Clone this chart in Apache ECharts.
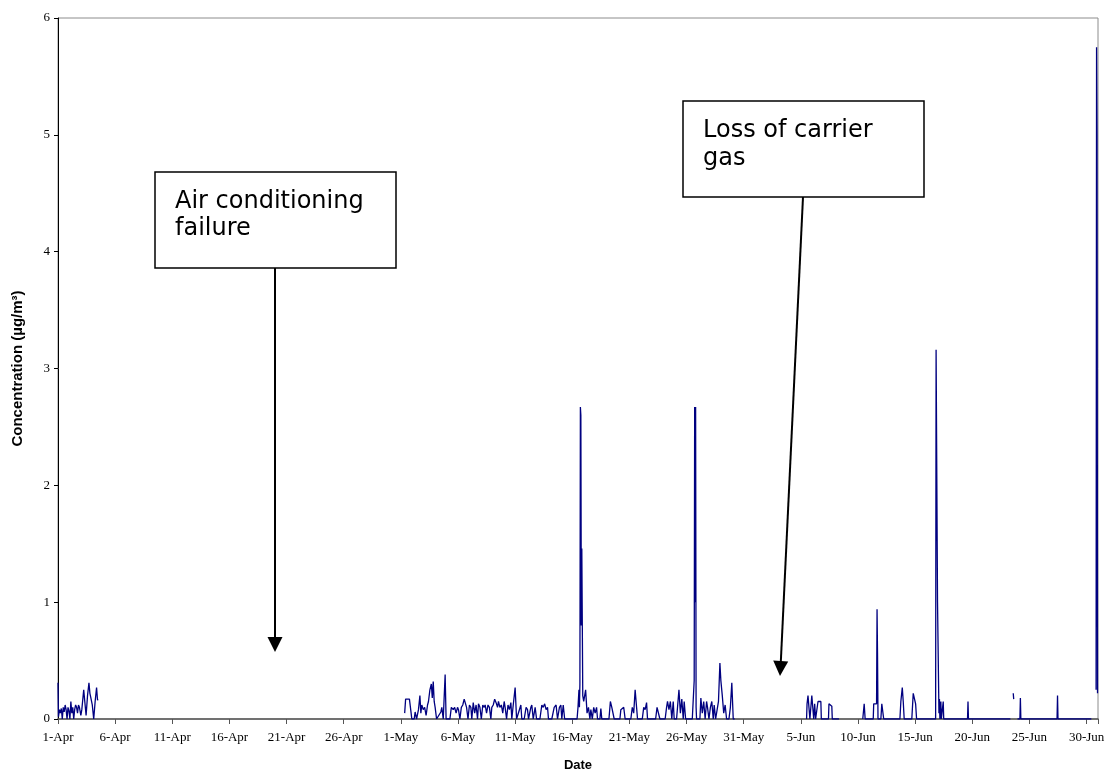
<!DOCTYPE html>
<html>
<head>
<meta charset="utf-8">
<script src="https://cdn.jsdelivr.net/npm/echarts/dist/echarts.min.js"></script>
<style>html,body{margin:0;padding:0;background:#fff}#c{width:1110px;height:777px}</style>
</head>
<body>
<div id="c"></div>
<script>
// x = hours elapsed since 1-Apr 00:00; y = concentration (µg/m3)
const tickLabels = ['1-Apr','6-Apr','11-Apr','16-Apr','21-Apr','26-Apr','1-May','6-May','11-May','16-May','21-May','26-May','31-May','5-Jun','10-Jun','15-Jun','20-Jun','25-Jun','30-Jun'];
const yTicks = [0,1,2,3,4,5,6];

const aprData = [[0,0.31],[1,0.02],[3,0.08],[5,0.05],[7,0.09],[9,0],[11,0.1],[13,0.06],[15,0.12],[17,0.08],[19,0],[21,0.1],[23,0.07],[25,0],[27,0.15],[29,0.05],[31,0.1],[33,0],[35,0.08],[37,0.12],[39,0.1],[41,0.05],[43,0.12],[45,0.1],[48,0.03],[50,0.08],[54,0.25],[56,0.16],[59,0.03],[62,0.2],[65,0.31],[67,0.22],[69,0.18],[72,0.12],[75,0],[78,0.15],[81,0.27],[83,0.16],[84,0.17]];

const mayData = [[728,0.05],[730,0.17],[734,0.18],[738,0.17],[741,0.07],[743,0],[748,0],[750,0.06],[753,0],[757,0.08],[760,0.2],[762,0.05],[764,0.12],[767,0.08],[770,0.1],[773,0.03],[776,0.12],[778,0.15],[781,0.25],[784,0.3],[786,0.18],[788,0.32],[790,0.15],[792,0.1],[795,0],[799,0],[804,0.06],[806,0.1],[809,0],[813,0.38],[815,0],[823,0],[826,0.1],[830,0.08],[833,0.1],[836,0.05],[839,0.1],[841,0.08],[844,0],[847,0.1],[850,0.12],[853,0.17],[855,0.16],[858,0.1],[861,0],[864,0.12],[867,0.1],[869,0],[872,0.14],[875,0.05],[878,0.12],[881,0],[883,0.13],[886,0.1],[889,0],[892,0.12],[895,0.1],[897,0.12],[900,0.05],[903,0.12],[906,0.1],[909,0],[911,0.1],[914,0.12],[917,0.17],[920,0.14],[923,0.1],[925,0.15],[928,0.1],[931,0.12],[934,0.05],[937,0.15],[939,0.1],[942,0],[945,0.12],[948,0.08],[951,0.14],[953,0],[956,0.12],[960,0.27],[963,0],[967,0],[972,0.12],[974,0],[979,0],[983,0.1],[986,0.08],[988,0],[993,0.1],[995,0.12],[998,0],[1002,0.1],[1005,0],[1012,0],[1016,0.12],[1019,0.1],[1022,0.13],[1025,0.08],[1028,0.1],[1030,0],[1037,0],[1042,0.1],[1046,0.12],[1049,0],[1053,0.1],[1056,0.12],[1058,0],[1061,0.12],[1064,0],[1090,0],[1092,0.1],[1094,0.25],[1095,0.1],[1096,0.3],[1097,2.67],[1098,2.6],[1099,0.8],[1100,1.46],[1101,1.45],[1102,0.2],[1104,0.15],[1108,0.25],[1111,0.05],[1114,0.1],[1117,0],[1119,0.08],[1122,0],[1125,0.1],[1128,0.05],[1131,0.1],[1133,0],[1138,0],[1140,0.09],[1142,0],[1157,0],[1160,0.15],[1163,0.1],[1166,0.1],[1168,0],[1180,0],[1182,0.08],[1185,0.08],[1188,0.1],[1191,0],[1203,0],[1206,0.1],[1209,0.05],[1212,0.25],[1215,0.1],[1217,0],[1227,0],[1230,0.1],[1233,0.08],[1236,0.14],[1238,0],[1255,0],[1258,0.1],[1261,0.1],[1264,0],[1275,0],[1278,0.1],[1280,0.15],[1283,0.08],[1286,0.15],[1289,0],[1292,0.15],[1294,0],[1299,0],[1301,0.1],[1304,0.25],[1307,0.05],[1310,0.17],[1313,0],[1315,0.15],[1318,0],[1332,0],[1336,0.33],[1337,2.67],[1338,1.0],[1339,2.67],[1340,0.1],[1341,0],[1348,0],[1350,0.18],[1353,0.05],[1356,0.15],[1359,0],[1362,0.15],[1364,0.1],[1367,0],[1370,0.1],[1373,0.15],[1376,0],[1378,0.12],[1381,0],[1384,0],[1387,0.15],[1390,0.48],[1392,0.33],[1395,0.2],[1398,0.05],[1401,0.12],[1404,0],[1409,0],[1412,0.1],[1415,0.31],[1418,0],[1421,0]];

const junData = [[1572,0],[1573,0.13],[1575,0.2],[1577,0.2],[1579,0],[1583,0.2],[1585,0.2],[1587,0],[1589,0.13],[1591,0],[1595,0],[1596,0.15],[1602,0.15],[1603,0],[1618,0],[1619,0.13],[1622,0.12],[1625,0.11],[1626,0],[1640,0],[1641,null],[1690,0],[1692,0],[1693,0.13],[1695,0],[1712,0],[1713,0.13],[1716,0.13],[1719,0.13],[1720,0.94],[1721,0.56],[1722,0],[1728,0],[1730,0.13],[1733,0.13],[1734,0],[1768,0],[1770,0.15],[1773,0.27],[1775,0.15],[1777,0],[1793,0],[1796,0.22],[1798,0.22],[1801,0.13],[1803,0],[1843,0],[1844,3.16],[1846,3.16],[1847,1.0],[1849,1.0],[1850,0.05],[1851,0.17],[1852,0],[1854,0.15],[1855,0],[1859,0.15],[1860,0],[1910,0],[1911,0.15],[1912,0],[2000,0],[2001,null],[2006,0.22],[2007,0.17],[2008,null],[2015,0],[2020,0],[2021,0.18],[2022,0],[2098,0],[2099,0.2],[2100,0],[2170,0],[2171,null],[2180,0.25],[2181,5.75],[2182,5.0],[2183,0.22]];

const note1 = ['Air conditioning','failure'];
const note2 = ['Loss of carrier','gas'];

const seriesData = [].concat(aprData, [[85,null]], mayData, [[1422,null]], junData);

const chart = echarts.init(document.getElementById('c'), null, {renderer:'canvas'});
const serif = '"Liberation Serif", "Times New Roman", serif';
const sans = '"Liberation Sans", Arial, sans-serif';
const boxFont = '24px "DejaVu Sans", Verdana, sans-serif';

chart.setOption({
  animation:false,
  backgroundColor:'#fff',
  grid:{left:58,right:12,top:18,bottom:58,show:true,borderColor:'#8c8c8c',borderWidth:1,backgroundColor:'transparent'},
  xAxis:{
    type:'value',min:0,max:2184,interval:120,
    name:'Date',nameLocation:'middle',nameGap:40,
    nameTextStyle:{fontFamily:sans,fontWeight:'bold',fontSize:13,color:'#000'},
    axisLine:{show:true,lineStyle:{color:'#555',width:1.5}},
    axisTick:{show:true,inside:false,length:5,lineStyle:{color:'#555'}},
    axisLabel:{margin:12,fontFamily:serif,fontSize:13,color:'#000',
      formatter:function(v){ return (v % 120 === 0 && tickLabels[v/120]) ? tickLabels[v/120] : ''; }},
    splitLine:{show:false}
  },
  yAxis:{
    type:'value',min:yTicks[0],max:yTicks[yTicks.length-1],interval:1,
    name:'Concentration (µg/m³)',nameLocation:'middle',nameGap:33,nameRotate:90,
    nameTextStyle:{fontFamily:sans,fontWeight:'bold',fontSize:15,color:'#000'},
    axisLine:{show:true,lineStyle:{color:'#000',width:1}},
    axisTick:{show:true,inside:false,length:4,lineStyle:{color:'#000'}},
    axisLabel:{margin:8,fontFamily:serif,fontSize:13,color:'#000'},
    splitLine:{show:false}
  },
  series:[{
    type:'line',data:seriesData,showSymbol:false,symbol:'none',connectNulls:false,
    lineStyle:{color:'#000080',width:1.3},itemStyle:{color:'#000080'},z:3
  }],
  graphic:[
    {type:'line',shape:{x1:275,y1:268,x2:275,y2:638},style:{stroke:'#000',lineWidth:2},z:100},
    {type:'polygon',shape:{points:[[267.5,637],[282.5,637],[275,652]]},style:{fill:'#000'},z:100},
    {type:'line',shape:{x1:803,y1:197,x2:780.8,y2:662},style:{stroke:'#000',lineWidth:2},z:100},
    {type:'polygon',shape:{points:[[788.2,661.4],[773.2,660.6],[780,676]]},style:{fill:'#000'},z:100},
    {type:'rect',shape:{x:155,y:172,width:241,height:96},style:{fill:'#fff',stroke:'#000',lineWidth:1.5},z:101},
    {type:'text',x:175,y:202,style:{text:note1[0],font:boxFont,fill:'#000',verticalAlign:'middle'},z:102},
    {type:'text',x:175,y:229,style:{text:note1[1],font:boxFont,fill:'#000',verticalAlign:'middle'},z:102},
    {type:'rect',shape:{x:683,y:101,width:241,height:96},style:{fill:'#fff',stroke:'#000',lineWidth:1.5},z:101},
    {type:'text',x:703,y:131,style:{text:note2[0],font:boxFont,fill:'#000',verticalAlign:'middle'},z:102},
    {type:'text',x:703,y:159,style:{text:note2[1],font:boxFont,fill:'#000',verticalAlign:'middle'},z:102}
  ]
});
</script>
</body>
</html>
